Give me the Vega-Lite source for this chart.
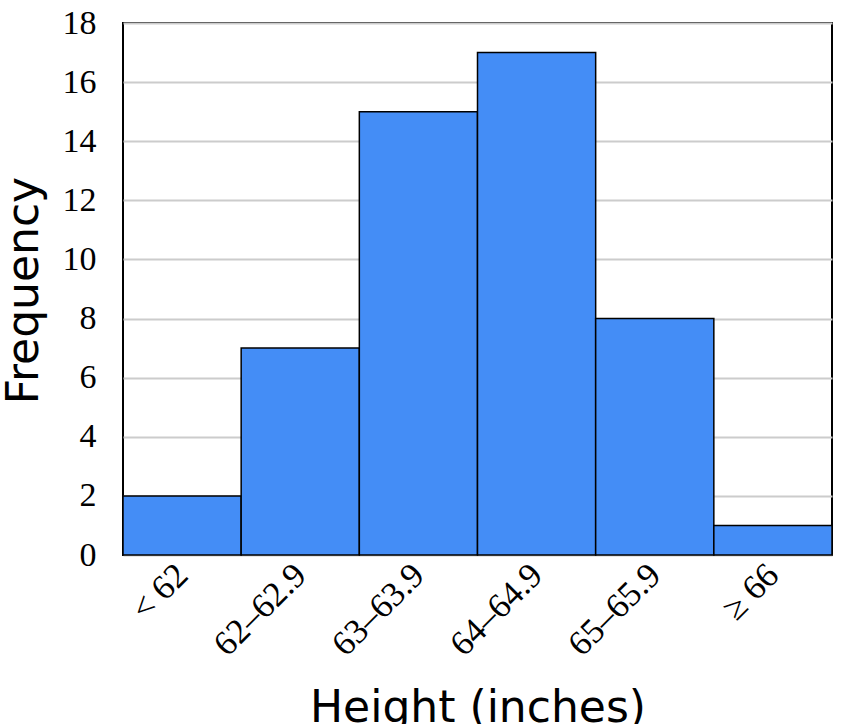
{
  "$schema": "https://vega.github.io/schema/vega-lite/v6.json",
  "autosize": "none",
  "padding": {"left": 123, "top": 23, "right": 18, "bottom": 169},
  "width": 709,
  "height": 532,
  "background": "white",
  "data": {
    "values": [
      {"height": "< 62", "frequency": 2},
      {"height": "62–62.9", "frequency": 7},
      {"height": "63–63.9", "frequency": 15},
      {"height": "64–64.9", "frequency": 17},
      {"height": "65–65.9", "frequency": 8},
      {"height": "≥ 66", "frequency": 1}
    ]
  },
  "config": {
    "view": {"stroke": "black", "strokeWidth": 2},
    "axis": {"domain": false, "ticks": false, "grid": false}
  },
  "mark": {"type": "bar", "color": "#448df6", "stroke": "black", "strokeWidth": 1.5},
  "encoding": {
    "x": {
      "field": "height",
      "type": "nominal",
      "sort": null,
      "scale": {"paddingInner": 0, "paddingOuter": 0},
      "axis": {
        "title": "Height (inches)",
        "titleFont": "DejaVu Sans",
        "titleFontSize": 44,
        "titleFontWeight": "normal",
        "titleColor": "black",
        "titleBaseline": "alphabetic",
        "titleY": 166,
        "labelAngle": -45,
        "labelAlign": "right",
        "labelBaseline": "middle",
        "labelFont": "Liberation Serif, DejaVu Serif, serif",
        "labelFontSize": 35,
        "labelColor": "black",
        "labelPadding": 14
      }
    },
    "y": {
      "field": "frequency",
      "type": "quantitative",
      "scale": {"domain": [0, 18]},
      "axis": {
        "title": "Frequency",
        "values": [0, 2, 4, 6, 8, 10, 12, 14, 16, 18],
        "grid": true,
        "gridColor": "#cccccc",
        "gridWidth": 2,
        "titleFont": "DejaVu Sans",
        "titleFontSize": 44,
        "titleFontWeight": "normal",
        "titleColor": "black",
        "titleAngle": -90,
        "titleBaseline": "alphabetic",
        "titleX": -86,
        "titleY": 267,
        "labelFont": "Liberation Serif, DejaVu Serif, serif",
        "labelFontSize": 34,
        "labelColor": "black",
        "labelPadding": 27
      }
    }
  }
}
